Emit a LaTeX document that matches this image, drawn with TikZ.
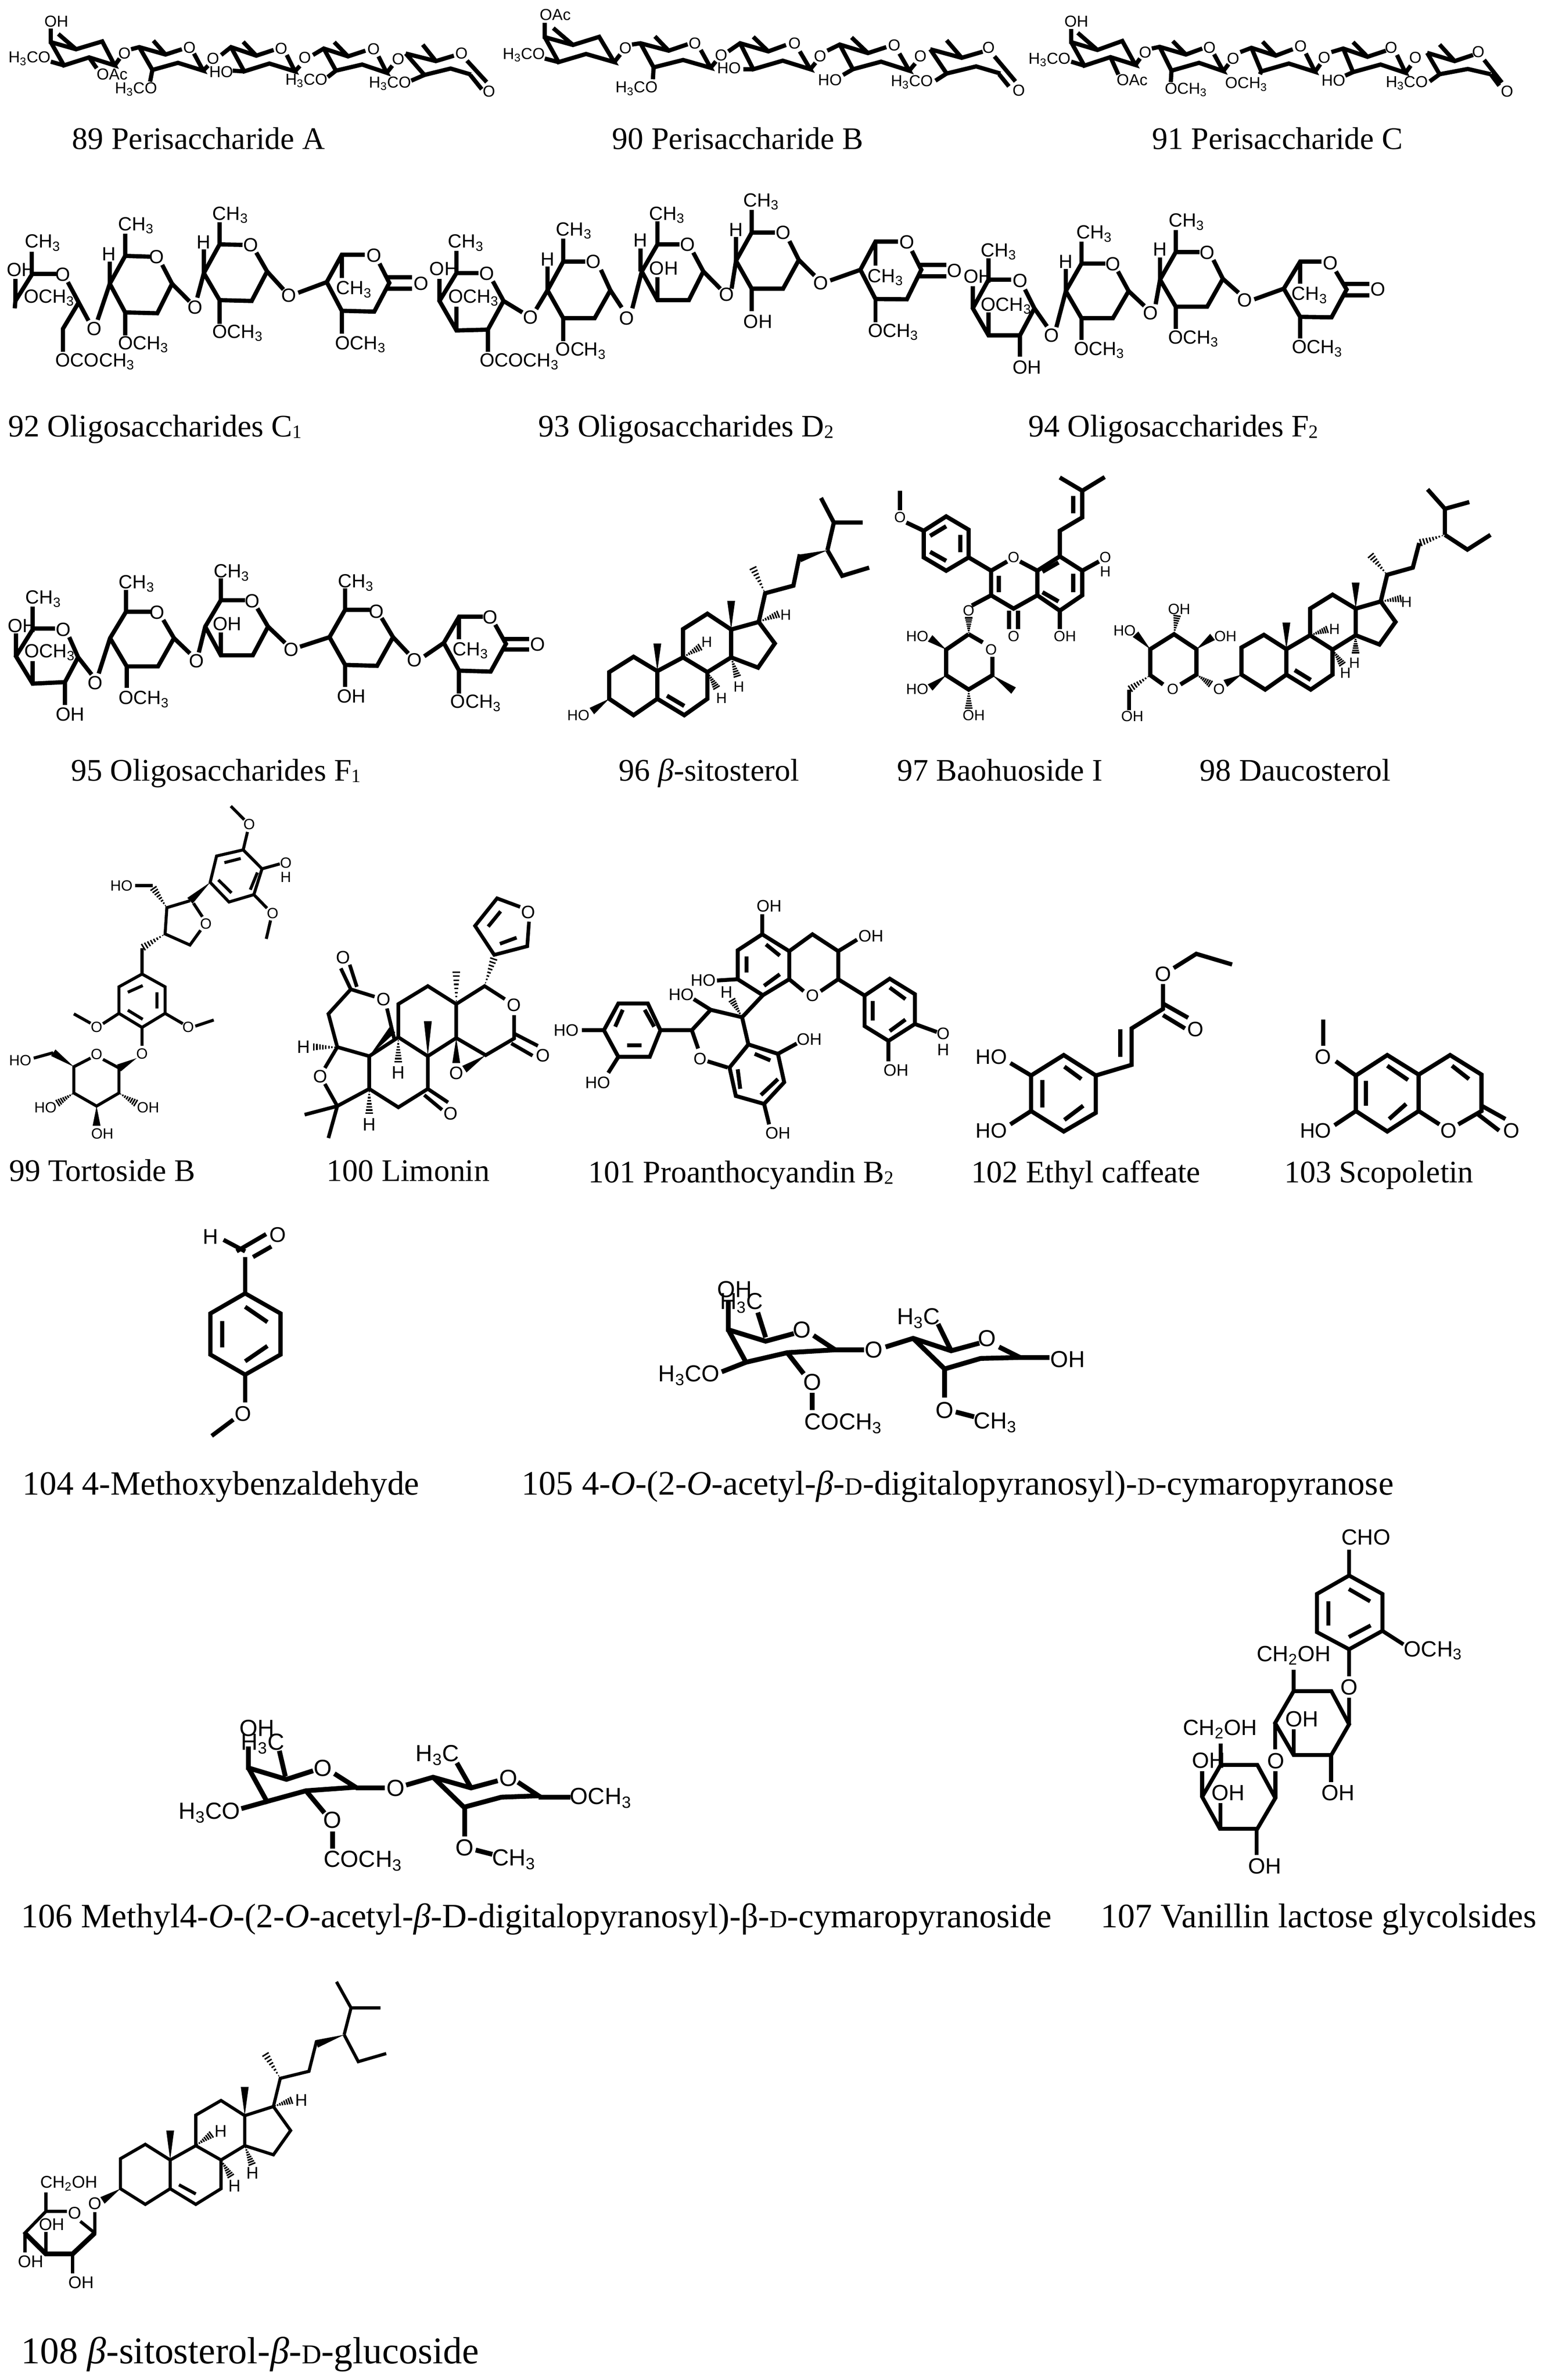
\documentclass[tikz,border=0pt]{standalone}
\usepackage{fontspec}
\setmainfont{Liberation Serif}
\setsansfont{Liberation Sans}
\usetikzlibrary{calc}
\def\wedgeb(#1)(#2){\fill (#1) -- ($(#2)!1.3mm!90:(#1)$) -- ($(#2)!1.3mm!-90:(#1)$) -- cycle;}
\def\hashb(#1)(#2){\foreach \hp in {.1,.22,.34,.46,.58,.7,.82,.94}{\pgfmathsetmacro\hw{\hp*1.3}\draw[line width=.5mm] ($(#1)!\hp!(#2)!\hw mm!90:(#2)$) -- ($(#1)!\hp!(#2)!\hw mm!-90:(#2)$);}}
\def\atom(#1)#2{\node at (#1) {#2};}
\def\lblCH{CH\textsubscript{3}}
\def\lblOCH{OCH\textsubscript{3}}
\def\lblHCO{H\textsubscript{3}CO}
\def\lblHC{H\textsubscript{3}C}
\def\lblCOCH{COCH\textsubscript{3}}
\def\lblAc{OCOCH\textsubscript{3}}
\def\lblCHOH{CH\textsubscript{2}OH}
\def\smD{\scalebox{.72}{D}}
\def\capsub#1{\raisebox{-.12ex}{\scalebox{.6}{#1}}}
\tikzset{
	atoms/.style={every node/.style={inner sep=0pt,font=\sffamily\fontsize{#1}{#1}\selectfont}},
	capt/.style={anchor=base west,inner sep=0pt,font=\fontsize{#1}{#1}\selectfont},
	capt/.default=29.6,
	viewA/.style={x=.10869mm,y=-.04734mm},
	viewK/.style={shift={(340.9,0)},x=.2174mm,y=-.04734mm},
	viewB/.style={shift={(0,127.8)},x=.10869mm,y=-.05435mm},
	viewC/.style={shift={(284,127.8)},x=.20834mm,y=-.05435mm},
	viewD/.style={shift={(0,326.7)},x=.11775mm,y=-.06341mm},
	viewE/.style={shift={(355.1,312.5)},x=.21287mm,y=-.06793mm},
	viewF/.style={shift={(0,525.5)},x=.11775mm,y=-.08152mm},
	viewG/.style={shift={(369.3,596.5)},x=.20834mm,y=-.05888mm},
	viewH/.style={shift={(85.2,795.4)},x=.2174mm,y=-.06341mm},
	viewI/.style={shift={(738.5,1022.6)},x=.09058mm,y=-.08152mm},
	viewJ/.style={shift={(85.2,1122)},x=.11775mm,y=-.04734mm},
	viewL/.style={shift={(0,1306.7)},x=.12681mm,y=-.0865mm}
}
\begin{document}
\begin{tikzpicture}[x=.5mm,y=-.5mm]
			\useasboundingbox (0,0) rectangle (1024,1578);
			
			% 89
			\begin{scope}[viewA,atoms=15,line width=1.4mm]
				\draw (155,200) -- (155,295) -- (232,345) -- (312,290) -- (350,458) -- (272,402) -- (195,458) -- (155,295);
				\draw (232,345) -- (178,238) (272,402) -- (295,478) (195,458) -- (155,432) (350,458) -- (365,410);
				\atom(172,150){OH} \atom(90,410){\lblHCO} \atom(342,520){OAc} \atom(380,372){O}
				\draw (400,345) -- (425,330) -- (505,382) -- (555,345) (592,375) -- (620,495) -- (543,440) -- (465,490) -- (425,330);
				\draw (505,382) -- (468,285) (465,490) -- (458,572) (620,495) -- (635,460);
				\atom(578,335){O} \atom(415,625){\lblHCO} \atom(650,410){O}
				\draw (675,385) -- (705,330) -- (782,390) -- (835,350) (875,385) -- (900,500) -- (822,445) -- (745,500) -- (705,330);
				\draw (782,390) -- (742,293) (710,495) -- (745,500) (900,500) -- (915,462);
				\atom(858,340){O} \atom(675,505){HO} \atom(930,405){O}
				\draw (955,385) -- (988,340) -- (1062,395) -- (1115,355) (1155,395) -- (1180,510) -- (1105,452) -- (1025,495) -- (988,340);
				\draw (1062,395) -- (1020,295) (1025,495) -- (1000,540) (1180,510) -- (1197,460);
				\atom(1140,345){O} \atom(935,565){\lblHCO} \atom(1215,415){O}
				\draw (1238,375) -- (1330,428) -- (1385,390) (1238,375) -- (1295,525) -- (1375,480) -- (1437,522);
				\draw (1330,428) -- (1290,313) (1295,525) -- (1255,565) (1425,425) -- (1485,575) (1435,525) -- (1470,625);
				\atom(1408,375){O} \atom(1190,585){\lblHCO} \atom(1492,640){O}
			\end{scope}
			\node[capt] (capt89) at (47.8,99) {89 Perisaccharide A};
			
			% 90
			\begin{scope}[viewK,atoms=15,line width=1.4mm]
				\draw (47,160) -- (47,260) -- (90,315) -- (130,258) -- (153,435) -- (110,378) -- (68,435) -- (47,260);
				\draw (90,315) -- (60,197) (68,435) -- (47,410) (153,435) -- (162,382);
				\atom(63,105){OAc} \atom(15,385){\lblHCO} \atom(170,338){O}
				\draw (180,312) -- (193,303) -- (236,355) -- (265,310) (285,350) -- (300,475) -- (258,420) -- (213,472) -- (193,303);
				\draw (236,355) -- (215,255) (213,472) -- (212,555) (300,475) -- (308,430);
				\atom(276,305){O} \atom(187,620){\lblHCO} \atom(316,388){O}
				\draw (327,360) -- (345,303) -- (388,360) -- (415,315) (436,360) -- (452,485) -- (410,425) -- (365,485) -- (345,303);
				\draw (388,360) -- (365,258) (350,485) -- (365,485) (452,485) -- (460,440);
				\atom(428,305){O} \atom(328,478){HO} \atom(467,395){O}
				\draw (478,355) -- (497,312) -- (540,372) -- (568,330) (588,375) -- (603,495) -- (560,432) -- (517,485) -- (497,312);
				\draw (540,372) -- (515,262) (517,485) -- (502,525) (603,495) -- (612,445);
				\atom(580,318){O} \atom(482,560){HO} \atom(620,392){O}
				\draw (635,345) -- (683,405) -- (715,362) (635,345) -- (660,515) -- (705,465) -- (742,515);
				\draw (683,405) -- (660,282) (660,515) -- (643,565) (733,395) -- (765,570) (740,520) -- (755,605);
				\atom(724,335){O} \atom(607,575){\lblHCO} \atom(770,635){O}
			\end{scope}
			\node[capt] (capt90) at (406,99) {90 Perisaccharide B};
			
			% 91
			\begin{scope}[viewK,atoms=15,line width=1.4mm]
				\draw (850,203) -- (850,295) -- (890,350) -- (928,287) -- (948,455) -- (910,400) -- (870,460) -- (850,295);
				\draw (890,350) -- (860,230) (870,460) -- (850,432) (948,455) -- (955,410) (910,400) -- (922,522);
				\atom(858,150){OH} \atom(817,418){\lblHCO} \atom(963,368){O} \atom(943,560){OAc}
				\draw (973,340) -- (985,328) -- (1025,382) -- (1050,340) (1068,380) -- (1082,498) -- (1045,440) -- (1003,495) -- (985,328);
				\draw (1025,382) -- (1005,288) (1003,495) -- (1002,575) (1082,498) -- (1090,450);
				\atom(1061,335){O} \atom(1025,628){\lblOCH} \atom(1097,410){O}
				\draw (1108,365) -- (1125,335) -- (1162,390) -- (1188,345) (1208,375) -- (1222,503) -- (1182,445) -- (1140,500) -- (1125,335);
				\draw (1162,390) -- (1142,292) (1140,500) -- (1138,520) (1222,503) -- (1230,450);
				\atom(1200,325){O} \atom(1117,590){\lblOCH} \atom(1236,405){O}
				\draw (1247,365) -- (1265,340) -- (1302,398) -- (1330,355) (1347,385) -- (1360,510) -- (1322,452) -- (1280,505) -- (1265,340);
				\draw (1302,398) -- (1280,295) (1280,505) -- (1268,530) (1360,510) -- (1368,460);
				\atom(1338,335){O} \atom(1250,565){HO} \atom(1375,405){O}
				\draw (1393,370) -- (1435,428) -- (1463,385) (1393,370) -- (1412,520) -- (1455,483) -- (1490,520);
				\draw (1435,428) -- (1412,312) (1412,520) -- (1397,570) (1480,420) -- (1507,578) (1490,520) -- (1503,600);
				\atom(1471,362){O} \atom(1362,582){\lblHCO} \atom(1515,640){O}
			\end{scope}
			\node[capt] (capt91) at (764,99) {91 Perisaccharide C};
			
			% 92
			\begin{scope}[viewB,atoms=18,line width=1.4mm]
				\draw (97,360) -- (97,505) (97,495) -- (172,495) (97,500) -- (47,660) -- (45,705) (47,525) -- (47,665);
				\draw (207,545) -- (270,780) (240,670) -- (192,830) -- (192,970);
				\atom(130,305){\lblCH} \atom(65,470){OH} \atom(192,498){O} \atom(150,640){\lblOCH} \atom(288,830){O} \atom(290,1030){\lblAc}
				\draw (298,775) -- (335,555) -- (382,385) -- (458,390) (495,440) -- (525,555) -- (480,735) -- (382,730) -- (335,555);
				\draw (382,385) -- (382,250) (335,420) -- (335,555) (382,730) -- (382,870) (525,555) -- (578,662);
				\atom(478,392){O} \atom(415,200){\lblCH} \atom(333,375){H} \atom(437,925){\lblOCH} \atom(595,700){O}
				\draw (602,640) -- (622,490) -- (670,315) -- (740,318) (782,365) -- (815,480) -- (768,660) -- (670,655) -- (622,490);
				\draw (670,315) -- (670,180) (622,345) -- (622,490) (670,655) -- (670,800) (815,480) -- (865,590);
				\atom(765,320){O} \atom(703,135){\lblCH} \atom(622,300){H} \atom(725,855){\lblOCH} \atom(882,625){O}
				\draw (910,610) -- (997,545) -- (1043,378) -- (1113,378) (1158,432) -- (1188,550) -- (1142,725) -- (1043,720) -- (997,545);
				\draw (1043,378) -- (1043,520) (1043,720) -- (1043,860) (1180,515) -- (1258,515) (1180,585) -- (1258,585);
				\atom(1142,382){O} \atom(1080,590){\lblCH} \atom(1100,925){\lblOCH} \atom(1285,553){O}
			\end{scope}
			\node[capt] (capt92) at (5.4,289.5) {92 Oligosaccharides C\capsub{1}};
			
			% 93
			\begin{scope}[viewC,atoms=18,line width=1.4mm]
				\draw (45,355) -- (45,490) (45,490) -- (80,490) (45,490) -- (18,660) -- (45,840) -- (95,835) -- (120,660) (18,525) -- (18,660) (45,695) -- (45,840);
				\draw (103,540) -- (120,660) -- (150,730) (95,835) -- (95,970);
				\atom(60,305){\lblCH} \atom(25,465){OH} \atom(93,492){O} \atom(72,640){\lblOCH} \atom(163,760){O} \atom(145,1030){\lblAc}
				\draw (172,710) -- (190,595) -- (215,420) -- (250,420) (275,470) -- (290,595) -- (265,765) -- (215,765) -- (190,595);
				\draw (215,420) -- (215,280) (190,450) -- (190,595) (215,765) -- (215,905) (290,595) -- (308,700);
				\atom(263,420){O} \atom(232,232){\lblCH} \atom(190,405){H} \atom(243,965){\lblOCH} \atom(316,765){O}
				\draw (325,705) -- (340,480) -- (365,315) -- (400,315) (422,365) -- (438,480) -- (415,655) -- (365,655) -- (340,480);
				\draw (365,315) -- (365,175) (338,340) -- (338,480) (365,515) -- (365,655) (438,480) -- (465,585);
				\atom(413,315){O} \atom(380,135){\lblCH} \atom(338,290){H} \atom(375,462){OH} \atom(475,620){O}
				\draw (483,585) -- (490,415) -- (515,243) -- (552,243) (575,295) -- (590,410) -- (565,585) -- (515,585) -- (490,415);
				\draw (515,243) -- (515,105) (490,270) -- (490,415) (515,585) -- (515,722) (590,410) -- (615,505);
				\atom(565,243){O} \atom(530,55){\lblCH} \atom(490,225){H} \atom(525,785){OH} \atom(625,550){O}
				\draw (640,535) -- (688,470) -- (712,298) -- (748,298) (770,355) -- (785,470) -- (762,650) -- (712,648) -- (688,470);
				\draw (712,300) -- (712,445) (712,648) -- (712,790) (782,440) -- (825,440) (782,510) -- (825,510);
				\atom(762,302){O} \atom(728,515){\lblCH} \atom(740,850){\lblOCH} \atom(838,475){O}
			\end{scope}
			\node[capt] (capt93) at (357,289.5) {93 Oligosaccharides D\capsub{2}};
			
			% 94
			\begin{scope}[viewC,atoms=18,line width=1.4mm]
				\draw (892,400) -- (892,535) (892,530) -- (928,530) (892,530) -- (867,705) -- (892,870) -- (942,870) -- (965,705) (867,570) -- (867,705) (892,730) -- (892,870);
				\draw (950,590) -- (965,705) -- (985,815) (942,870) -- (942,1000);
				\atom(908,360){\lblCH} \atom(875,510){OH} \atom(942,537){O} \atom(920,690){\lblOCH} \atom(992,870){O} \atom(953,1065){OH}
				\draw (1000,820) -- (1015,600) -- (1040,432) -- (1078,432) (1098,480) -- (1115,600) -- (1090,765) -- (1040,765) -- (1015,600);
				\draw (1040,432) -- (1040,298) (1015,465) -- (1015,600) (1040,765) -- (1040,898) (1115,600) -- (1140,690);
				\atom(1090,435){O} \atom(1060,250){\lblCH} \atom(1015,420){H} \atom(1068,960){\lblOCH} \atom(1150,735){O}
				\draw (1158,680) -- (1165,530) -- (1190,362) -- (1228,362) (1250,410) -- (1265,525) -- (1240,695) -- (1190,695) -- (1165,530);
				\draw (1190,362) -- (1190,228) (1165,395) -- (1165,530) (1190,695) -- (1190,830) (1265,525) -- (1290,610);
				\atom(1240,365){O} \atom(1207,178){\lblCH} \atom(1165,345){H} \atom(1218,890){\lblOCH} \atom(1300,655){O}
				\draw (1315,650) -- (1362,585) -- (1388,420) -- (1422,420) (1445,480) -- (1462,590) -- (1438,760) -- (1388,757) -- (1362,585);
				\draw (1388,420) -- (1388,555) (1388,757) -- (1388,890) (1458,555) -- (1498,555) (1458,625) -- (1498,625);
				\atom(1436,430){O} \atom(1403,625){\lblCH} \atom(1415,950){\lblOCH} \atom(1512,590){O}
			\end{scope}
			\node[capt] (capt94) at (682,289.5) {94 Oligosaccharides F\capsub{2}};
			
			% 95
			\begin{scope}[viewD,atoms=18,line width=1.4mm]
				\draw (92,595) -- (92,715) (92,710) -- (155,710) (92,715) -- (45,855) -- (92,998) -- (183,990) -- (220,860) (45,735) -- (45,855) (92,880) -- (92,998);
				\draw (195,755) -- (220,860) -- (258,950) (183,990) -- (183,1110);
				\atom(122,555){\lblCH} \atom(62,695){OH} \atom(178,715){O} \atom(140,835){\lblOCH} \atom(268,995){O} \atom(198,1158){OH}
				\draw (278,945) -- (310,760) -- (355,622) -- (425,622) (460,665) -- (490,760) -- (445,908) -- (357,908) -- (310,760);
				\draw (355,622) -- (355,508) (357,908) -- (357,1020) (490,760) -- (535,840);
				\atom(443,625){O} \atom(385,475){\lblCH} \atom(405,1080){\lblOCH} \atom(553,880){O}
				\draw (560,835) -- (578,700) -- (622,562) -- (690,562) (725,605) -- (755,700) -- (712,850) -- (622,850) -- (578,700);
				\draw (622,562) -- (622,448) (622,730) -- (622,850) (755,700) -- (803,785);
				\atom(710,565){O} \atom(652,418){\lblCH} \atom(640,685){OH} \atom(820,820){O}
				\draw (845,805) -- (928,755) -- (972,612) -- (1042,612) (1075,655) -- (1107,755) -- (1062,905) -- (972,900) -- (928,755);
				\draw (972,612) -- (972,500) (972,900) -- (972,1015) (1107,755) -- (1150,840);
				\atom(1060,620){O} \atom(1002,470){\lblCH} \atom(990,1065){OH} \atom(1168,875){O}
				\draw (1195,855) -- (1250,785) -- (1293,648) -- (1360,648) (1395,690) -- (1425,790) -- (1382,935) -- (1293,930) -- (1250,785);
				\draw (1293,650) -- (1293,765) (1293,930) -- (1293,1050) (1418,765) -- (1490,765) (1418,820) -- (1490,820);
				\atom(1380,652){O} \atom(1325,825){\lblCH} \atom(1340,1100){\lblOCH} \atom(1515,792){O}
			\end{scope}
			\node[capt] (capt95) at (47,517.6) {95 Oligosaccharides F\capsub{1}};
			
			% 96
			\begin{scope}[viewE,atoms=14,line width=1.4mm]
				\draw (115,980) -- (153,905) -- (190,975) -- (190,1110) -- (153,1190) -- (115,1110) -- cycle;
				\draw (190,975) -- (230,908) -- (268,980) -- (268,1110) -- (232,1190) -- (190,1110) (205,1095) -- (232,1145);
				\draw (230,908) -- (230,770) -- (268,695) -- (305,772) -- (305,908) -- (268,980);
				\draw (305,772) -- (348,735) -- (373,840) -- (347,958) -- (305,908);
				\draw (348,735) -- (358,595) -- (402,558) -- (412,405) (455,385) -- (465,250) -- (445,130) (465,250) -- (510,250) (455,385) -- (478,510) -- (520,470);
				\wedgeb(455,385)(412,425) \wedgeb(190,975)(190,840) \wedgeb(305,772)(305,632) \wedgeb(115,1110)(88,1170)
				\hashb(358,595)(338,465) \hashb(348,735)(380,695) \hashb(230,908)(258,855) \hashb(305,908)(315,1005) \hashb(268,980)(283,1060)
				\atom(390,700){H} \atom(267,833){H} \atom(317,1052){H} \atom(290,1108){H} \atom(67,1190){HO}
			\end{scope}
			\node[capt] (capt96) at (410.4,517.6) {96 \textit{β}-sitosterol};
			
			% 97
			\begin{scope}[viewE,atoms=14,line width=1.4mm]
				\draw (568,95) -- (568,190) (578,250) -- (605,290) (675,420) -- (710,485);
				\draw (640,220) -- (675,285) -- (675,420) -- (640,485) -- (605,420) -- (605,290) -- cycle;
				\draw (615,315) -- (640,268) (662,310) -- (662,395) (615,393) -- (640,437);
				\draw (735,440) -- (710,485) -- (710,605) -- (745,670) -- (782,605) -- (782,485) -- (755,440) (722,510) -- (722,590);
				\draw (782,485) -- (817,415) -- (852,485) -- (852,605) -- (817,680) -- (782,605);
				\draw (790,490) -- (815,445) (838,500) -- (838,590) (790,590) -- (815,635);
				\draw (817,415) -- (817,290) -- (852,225) -- (852,95) -- (817,30) (852,95) -- (887,28) (838,120) -- (838,205);
				\draw (852,485) -- (878,440) (817,680) -- (817,770) (738,680) -- (738,770) (752,680) -- (752,770) (710,605) -- (680,655);
				\draw (675,795) -- (640,870) -- (640,995) -- (675,1065) -- (712,995) -- (712,905) (675,795) -- (697,835);
				\hashb(675,795)(675,710) \hashb(675,1065)(675,1160)
				\wedgeb(640,870)(615,815) \wedgeb(640,995)(615,1055) \wedgeb(712,995)(745,1070)
				\atom(568,225){O} \atom(745,420){O} \atom(888,420){O} \atom(888,490){H} \atom(825,805){OH} \atom(745,805){O} \atom(675,680){O}
				\atom(710,870){O} \atom(683,1190){OH} \atom(595,805){HO} \atom(595,1063){HO}
			\end{scope}
			\node[capt] (capt97) at (594.8,517.6) {97 Baohuoside I};
			
			% 98
			\begin{scope}[viewE,atoms=14,line width=1.4mm]
				\draw (1100,860) -- (1135,798) -- (1170,868) -- (1170,992) -- (1137,1065) -- (1100,992) -- cycle;
				\draw (1170,868) -- (1207,800) -- (1242,870) -- (1242,992) -- (1208,1065) -- (1170,992) (1183,970) -- (1208,1018);
				\draw (1207,800) -- (1207,670) -- (1242,602) -- (1278,670) -- (1278,800) -- (1242,870);
				\draw (1278,670) -- (1317,635) -- (1340,735) -- (1315,845) -- (1278,800);
				\draw (1317,635) -- (1327,505) -- (1367,470) -- (1377,350) (1417,310) -- (1417,183) -- (1390,88) (1417,183) -- (1455,150) (1417,310) -- (1452,382) -- (1488,310);
				\hashb(1417,310)(1377,350) \hashb(1327,505)(1300,405) \hashb(1317,635)(1350,620) \hashb(1207,800)(1235,770) \hashb(1278,800)(1278,890) \hashb(1242,870)(1258,945)
				\wedgeb(1170,868)(1170,738) \wedgeb(1278,670)(1278,543) \wedgeb(1100,992)(1075,1035)
				\atom(1357,637){H} \atom(1245,770){H} \atom(1276,935){H} \atom(1262,985){H} \atom(1065,1062){O}
				\draw (978,1040) -- (958,995) -- (958,868) -- (995,795) -- (1030,868) -- (1030,992) -- (1005,1040);
				\hashb(1030,992)(1053,1040) \hashb(995,795)(1000,700) \hashb(958,995)(925,1065)
				\wedgeb(958,868)(935,795) \wedgeb(1030,868)(1055,808)
				\draw (925,1065) -- (925,1165);
				\atom(993,1062){O} \atom(918,778){HO} \atom(1003,672){OH} \atom(1075,805){OH} \atom(930,1195){OH}
			\end{scope}
			\node[capt] (capt98) at (795.7,517.6) {98 Daucosterol};
			
			% 99
			\begin{scope}[viewF,atoms=14,line width=1mm]
				\draw (610,258) -- (685,233) -- (738,310) -- (715,415) -- (645,445) -- (592,365) -- cycle;
				\draw (632,285) -- (678,268) (725,325) -- (705,395) (615,355) -- (652,408);
				\draw (685,233) -- (697,160) (688,110) -- (650,55) (738,310) -- (788,290) (715,415) -- (752,470) (762,520) -- (750,595);
				\atom(702,130){O} \atom(805,285){O} \atom(805,343){H} \atom(768,492){O}
				\wedgeb(592,365)(535,440)
				\draw (535,440) -- (470,468) -- (465,575) -- (535,620) -- (565,560) (545,450) -- (570,505);
				\atom(580,533){O}
				\hashb(470,468)(430,385) \hashb(465,575)(400,632)
				\draw (430,378) -- (380,378) (400,632) -- (400,735);
				\atom(342,378){HO}
				\draw (400,738) -- (465,790) -- (465,898) -- (400,955) -- (335,898) -- (335,790) -- cycle;
				\draw (360,812) -- (402,785) (442,812) -- (442,878) (360,885) -- (402,922);
				\draw (335,898) -- (290,940) (255,938) -- (208,900) (465,898) -- (515,940) (550,950) -- (602,925) (400,955) -- (400,1030);
				\atom(272,953){O} \atom(530,953){O} \atom(400,1063){O}
				\wedgeb(385,1080)(335,1120)
				\draw (290,1085) -- (335,1120) -- (335,1222) -- (272,1275) -- (208,1222) -- (208,1115) -- (255,1080);
				\wedgeb(208,1115)(150,1058)
				\draw (150,1058) -- (95,1080);
				\hashb(335,1222)(385,1265) \hashb(208,1222)(160,1265) \wedgeb(272,1275)(272,1355)
				\atom(272,1065){O} \atom(57,1090){HO} \atom(417,1280){OH} \atom(288,1388){OH} \atom(128,1280){HO}
			\end{scope}
			\node[capt] (capt99) at (5.9,783) {99 Tortoside B};
			
			% 100
			\begin{scope}[viewF,atoms=17,line width=1.2mm]
				\draw (1465,465) -- (1400,430) -- (1338,542) -- (1392,660) -- (1485,625) -- (1490,525);
				\draw (1375,545) -- (1410,483) (1408,615) -- (1455,590);
				\atom(1488,487){O}
				\hashb(1365,785)(1392,670)
				\draw (1422,840) -- (1365,787) -- (1285,860) -- (1285,998) -- (1368,1068) -- (1448,1000) -- (1448,905);
				\draw (1448,980) -- (1515,1030) (1440,1020) -- (1500,1070);
				\atom(1448,865){O} \atom(1530,1070){O}
				\wedgeb(1368,1068)(1308,1125) \wedgeb(1285,998)(1285,1100)
				\atom(1285,1140){O}
				\draw (1285,860) -- (1205,787) -- (1122,860) -- (1122,995) -- (1205,1072) -- (1285,998);
				\hashb(1285,860)(1285,722) \wedgeb(1205,1072)(1205,930)
				\draw (1122,995) -- (1040,1072) -- (1040,1205) -- (1122,1280) -- (1205,1205) -- (1205,1072);
				\draw (1205,1205) -- (1262,1260) (1195,1230) -- (1245,1290);
				\atom(1270,1305){O}
				\hashb(1122,1000)(1122,1100) \hashb(1040,1205)(1040,1310)
				\atom(1122,1140){H} \atom(1040,1350){H}
				\draw (1040,1072) -- (950,1035) -- (925,900) -- (988,800) -- (1055,830) (1090,878) -- (1110,1000);
				\draw (988,800) -- (960,715) (1005,790) -- (985,700);
				\atom(1080,840){O} \atom(967,670){O}
				\wedgeb(1040,1072)(1105,965) \hashb(950,1035)(880,1035)
				\atom(855,1035){H}
				\draw (950,1035) -- (915,1120) (915,1185) -- (950,1275) -- (1040,1205) (950,1275) -- (858,1310) (950,1275) -- (925,1405);
				\atom(902,1155){O}
			\end{scope}
			\node[capt] (capt100) at (216.6,783) {100 Limonin};
			
			% 101
			\begin{scope}[viewG,atoms=15.7,line width=1.3mm]
				\draw (327,195) -- (370,290) -- (370,448) -- (328,538) -- (288,448) -- (288,285) -- cycle;
				\draw (333,252) -- (355,315) (302,320) -- (302,410) (330,485) -- (355,420) (327,195) -- (327,82);
				\draw (370,290) -- (407,195) -- (448,290) -- (448,448) -- (420,515) (393,515) -- (370,448) (448,290) -- (478,225) (448,448) -- (490,540);
				\draw (490,540) -- (530,445) -- (570,532) -- (570,700) -- (528,795) -- (490,712) -- cycle;
				\draw (530,495) -- (555,560) (503,570) -- (503,680) (530,740) -- (555,675) (570,700) -- (605,745) (528,795) -- (528,910);
				\atom(338,35){OH} \atom(407,540){O} \atom(500,205){OH} \atom(615,755){O} \atom(615,845){H} \atom(540,960){OH} \atom(233,455){HO} \atom(270,520){H}
				\draw (288,448) -- (255,455) (328,538) -- (295,662) -- (245,620) -- (215,735) -- (225,838) (240,910) -- (272,945) (295,662) -- (305,815) (245,620) -- (218,560);
				\hashb(295,662)(278,560)
				\atom(228,895){O} \atom(198,535){HO}
				\draw (305,815) -- (352,868) -- (362,1028) -- (330,1150) -- (285,1105) -- (275,945) -- cycle;
				\draw (315,868) -- (340,905) (288,955) -- (292,1065) (325,1100) -- (352,1010) (352,868) -- (382,810) (330,1150) -- (338,1265);
				\atom(402,785){OH} \atom(352,1315){OH}
				\draw (215,735) -- (165,735) -- (145,585) -- (98,585) -- (75,735) -- (98,885) -- (148,885) -- (165,735);
				\draw (140,620) -- (155,715) (112,820) -- (135,820) (93,715) -- (105,620) (75,735) -- (40,735) (98,885) -- (82,975);
				\atom(15,735){HO} \atom(65,1030){HO}
			\end{scope}
			\node[capt] (capt101) at (390,784) {101 Proanthocyandin B\capsub{2}};
			
			% 102
			\begin{scope}[viewG,atoms=19.7,line width=1.4mm]
				\draw (755,990) -- (807,875) -- (858,990) -- (858,1200) -- (807,1305) -- (755,1190) -- cycle;
				\draw (808,940) -- (835,1010) (773,1015) -- (773,1170) (808,1240) -- (838,1160);
				\draw (755,990) -- (722,920) (755,1190) -- (722,1265);
				\draw (858,990) -- (915,930) -- (915,725) -- (965,615) -- (965,475) (897,730) -- (897,885);
				\draw (965,585) -- (1005,665) (965,650) -- (1000,725) (982,385) -- (1018,305) -- (1075,365);
				\atom(692,885){HO} \atom(692,1300){HO} \atom(1017,730){O} \atom(965,420){O}
			\end{scope}
			\node[capt] (capt102) at (644,784) {102 Ethyl caffeate};
			
			% 103
			\begin{scope}[viewG,atoms=19.7,line width=1.4mm]
				\draw (1272,990) -- (1322,875) -- (1372,985) -- (1372,1190) -- (1322,1305) -- (1272,1190) -- cycle;
				\draw (1322,935) -- (1355,1015) (1288,1020) -- (1288,1160) (1325,1235) -- (1352,1150);
				\draw (1372,985) -- (1422,875) -- (1472,985) -- (1472,1190) -- (1435,1265) (1405,1265) -- (1372,1190) (1425,935) -- (1452,1010);
				\draw (1472,1160) -- (1510,1235) (1465,1205) -- (1500,1300);
				\draw (1272,990) -- (1240,910) (1220,822) -- (1220,675) (1272,1190) -- (1238,1270);
				\atom(1420,1300){O} \atom(1520,1300){O} \atom(1220,885){O} \atom(1208,1300){HO}
			\end{scope}
			\node[capt] (capt103) at (851.8,784) {103 Scopoletin};
			
			% 104
			\begin{scope}[viewH,atoms=20,line width=1.4mm]
				\draw (178,490) -- (232,595) -- (232,810) -- (178,915) -- (125,810) -- (125,595) -- cycle;
				\draw (178,560) -- (212,640) (143,635) -- (143,772) (178,845) -- (212,765);
				\draw (178,490) -- (178,300) (178,270) -- (145,210) (165,270) -- (210,180) (190,300) -- (218,245);
				\draw (178,915) -- (178,1060) (160,1150) -- (127,1235);
				\atom(125,195){H} \atom(228,185){O} \atom(175,1120){O}
			\end{scope}
			\node[capt=32] (capt104) at (15,991) {104 4-Methoxybenzaldehyde};
			
			% 105
			\begin{scope}[viewH,atoms=21.8,line width=1.6mm]
				\draw (915,530) -- (915,680) -- (972,740) -- (1015,700) (1045,710) -- (1078,785) -- (1005,800) -- (942,850) -- (915,680);
				\draw (960,590) -- (972,720) (942,850) -- (905,900) (1005,800) -- (1030,910) (1043,1010) -- (1043,1100) (1078,785) -- (1122,785);
				\atom(925,470){OH} \atom(935,540){\lblHC} \atom(1027,680){O} \atom(855,920){\lblHCO} \atom(1043,955){O} \atom(1090,1170){\lblCOCH} \atom(1137,785){O}
				\draw (1155,770) -- (1197,725) -- (1255,790) -- (1298,750) (1328,770) -- (1360,825) -- (1300,830) -- (1245,885) -- (1197,725);
				\draw (1255,790) -- (1235,650) (1360,825) -- (1405,825) (1245,885) -- (1245,1035) (1262,1110) -- (1290,1135);
				\atom(1310,725){O} \atom(1205,620){\lblHC} \atom(1433,835){OH} \atom(1245,1100){O} \atom(1322,1165){\lblCH}
			\end{scope}
			\node[capt=32.4] (capt105) at (346,991) {105 4-\textit{O}-(2-\textit{O}-acetyl-\textit{β}-\smD-digitalopyranosyl)-\smD-cymaropyranose};
			
			% 106
			\begin{scope}[viewJ,atoms=22,line width=1.6mm]
				\draw (338,380) -- (338,530) -- (445,610) -- (520,550) (580,570) -- (640,665) -- (500,690) -- (390,765) -- (338,530);
				\draw (425,410) -- (442,590) (390,765) -- (318,815) (500,690) -- (552,845) (575,975) -- (575,1095) (640,670) -- (722,670);
				\atom(362,250){OH} \atom(378,360){\lblHC} \atom(548,530){O} \atom(228,845){\lblHCO} \atom(575,895){O} \atom(660,1180){\lblCOCH} \atom(752,670){O}
				\draw (782,650) -- (858,595) -- (965,670) -- (1040,620) (1097,630) -- (1155,725) -- (1050,735) -- (945,805) -- (858,595);
				\draw (965,670) -- (925,495) (1155,735) -- (1245,735) (947,805) -- (947,1010) (978,1105) -- (1025,1135);
				\atom(1070,600){O} \atom(870,440){\lblHC} \atom(1330,740){\lblOCH} \atom(947,1088){O} \atom(1085,1170){\lblCH}
			\end{scope}
			\node[capt=32.3] (capt106) at (14,1278) {106 Methyl4-\textit{O}-(2-\textit{O}-acetyl-\textit{β}-D-digitalopyranosyl)-β-\smD-cymaropyranoside};
			
			% 107
			\begin{scope}[viewI,atoms=20.8,line width=1.3mm]
				\draw (863,30) -- (863,135) -- (985,210) -- (985,360) -- (863,435) -- (745,365) -- (745,210) -- (863,135);
				\draw (862,190) -- (940,240) (787,240) -- (787,338) (862,385) -- (942,338) (985,360) -- (1062,415) (863,435) -- (863,545) (863,632) -- (863,740);
				\atom(925,-20){CHO} \atom(1170,440){\lblOCH} \atom(863,590){O} \atom(660,460){\lblCHOH}
				\draw (660,518) -- (660,605) -- (798,605) -- (863,740) -- (798,865) -- (660,865) -- (592,735) -- (660,605);
				\draw (660,760) -- (660,865) (797,865) -- (797,975) (592,735) -- (592,842) (593,930) -- (593,1040);
				\atom(690,718){OH} \atom(822,1018){OH} \atom(595,890){O} \atom(390,760){\lblCHOH}
				\draw (393,818) -- (393,905) -- (527,905) -- (593,1040) -- (527,1165) -- (390,1165) -- (325,1035) -- (393,905);
				\draw (325,930) -- (325,1035) (392,1060) -- (392,1165) (525,1165) -- (525,1272);
				\atom(348,888){OH} \atom(420,1018){OH} \atom(555,1318){OH}
			\end{scope}
			\node[capt=32.4] (capt107) at (730,1278) {107 Vanillin lactose glycolsides};
			
			% 108
			\begin{scope}[viewL,atoms=16,line width=1.05mm]
				\draw (315,720) -- (380,665) -- (445,725) -- (445,835) -- (380,895) -- (315,835) -- cycle;
				\draw (445,725) -- (512,670) -- (578,725) -- (578,835) -- (512,895) -- (445,835) (468,820) -- (512,855);
				\draw (512,670) -- (512,553) -- (578,497) -- (640,555) -- (640,670) -- (578,725);
				\draw (640,555) -- (715,520) -- (760,612) -- (715,705) -- (640,670);
				\draw (715,520) -- (733,412) -- (808,385) -- (828,268) (900,245) -- (918,142) -- (880,42) (918,142) -- (995,142) (900,245) -- (937,348) -- (1010,317);
				\wedgeb(900,245)(828,280) \wedgeb(445,725)(445,612) \wedgeb(640,555)(640,445) \wedgeb(315,835)(268,880)
				\hashb(733,412)(692,315) \hashb(715,520)(765,495) \hashb(512,670)(555,625) \hashb(640,670)(660,745) \hashb(578,725)(605,790)
				\atom(788,495){H} \atom(577,615){H} \atom(660,775){H} \atom(613,825){H} \atom(248,892){O}
				\draw (248,925) -- (248,1005) -- (190,1085) -- (120,1085) -- (65,1005) -- (120,922) -- (175,922) (210,960) -- (248,1005);
				\draw[line width=1.6mm] (248,1005) -- (190,1085) -- (120,1085) -- (65,1005);
				\draw (120,850) -- (120,922) (120,1000) -- (120,1085) (65,1005) -- (65,1080) (190,1085) -- (190,1160);
				\atom(195,928){O} \atom(180,815){\lblCHOH} \atom(135,972){OH} \atom(80,1115){OH} \atom(212,1195){OH}
			\end{scope}
			\node[capt=35.7] (capt108) at (14,1567) {108 \textit{β}-sitosterol-\textit{β}-\smD-glucoside};
\end{tikzpicture}
\end{document}
